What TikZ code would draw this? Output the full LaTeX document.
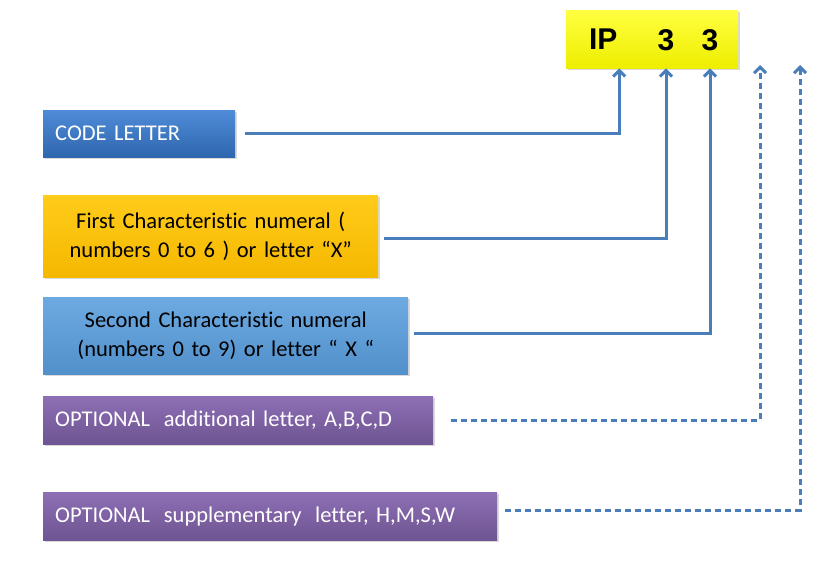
\documentclass[tikz,border=0pt]{standalone}
\usepackage{fontspec}
\setmainfont{Carlito}[Ligatures=NoCommon, WordSpace=0.8]
\newfontfamily\heavyfont{Liberation Sans}
\usetikzlibrary{arrows.meta,shadows}
\definecolor{linkblue}{HTML}{4A7EBB}
\definecolor{codetop}{HTML}{4F8BD8}
\definecolor{codebot}{HTML}{2F67AE}
\definecolor{goldtop}{HTML}{FFCC1A}
\definecolor{goldbot}{HTML}{F5B800}
\definecolor{skytop}{HTML}{6DAAE2}
\definecolor{skybot}{HTML}{5290CB}
\definecolor{plumtop}{HTML}{8E6FB5}
\definecolor{plumbot}{HTML}{6E5491}
\definecolor{lemontop}{HTML}{FFFF40}
\definecolor{lemonbot}{HTML}{EEEE00}
\tikzset{
  box/.style={rectangle, anchor=north west, inner xsep=12pt, inner ysep=0pt,
    drop shadow={shadow xshift=2pt, shadow yshift=-2pt, opacity=.3},
    font=\fontsize{22.5}{29}\selectfont},
  codebox/.style={box, top color=codetop, bottom color=codebot, text=white, align=left},
  goldbox/.style={box, top color=goldtop, bottom color=goldbot, align=center},
  skybox/.style={box, top color=skytop, bottom color=skybot, align=center},
  plumbox/.style={box, top color=plumtop, bottom color=plumbot, text=white, align=left},
  ipbox/.style={box, top color=lemontop, bottom color=lemonbot, inner xsep=0pt,
    minimum height=58pt, font=\heavyfont\bfseries\fontsize{30}{30}\selectfont},
  digit/.style={inner sep=0pt, font=\heavyfont\bfseries\fontsize{30}{30}\selectfont},
  link/.style={draw=linkblue, line width=3pt, -{Straight Barb[length=6pt,width=12pt]}},
  optlink/.style={link, dash pattern=on 6pt off 4pt},
}
\begin{document}
\begin{tikzpicture}[x=1pt, y=-1pt]
  \useasboundingbox (0,0) rectangle (836,565);
  % code boxes
  \node[ipbox, minimum width=74pt] (ip) at (566,10) {IP};
  \node[ipbox, minimum width=98pt] (num) at (640,10) {};
  \node[digit] (d1) at (666,40) {3};
  \node[digit] (d2) at (710,40) {3};
  \coordinate (optA) at (760,65);
  \coordinate (optB) at (800,65);
  % legend boxes
  \node[codebox, minimum height=47pt, text width=168pt] (code) at (43,110) {CODE LETTER};
  \node[goldbox, minimum height=82pt, text width=311pt] (first) at (43,195)
    {First Characteristic numeral (\\ numbers 0 to 6 ) or letter “X”};
  \node[skybox, minimum height=77pt, text width=341pt] (second) at (43,297)
    {Second Characteristic numeral\\ (numbers 0 to 9) or letter “ X “};
  \node[plumbox, minimum height=48pt, text width=366pt] (addl) at (43,396)
    {OPTIONAL\; additional letter, A,B,C,D};
  \node[plumbox, minimum height=48pt, text width=430pt] (supp) at (43,492)
    {OPTIONAL\; supplementary\; letter, H,M,S,W};
  \begin{scope}[link]
    \draw ([xshift=10pt]code.east) -| ([xshift=16pt]ip.south);
    \draw ([xshift=6pt,yshift=-2pt]first.east) -| (d1 |- num.south);
    \draw ([xshift=6pt,yshift=2pt]second.east) -| (d2 |- num.south);
  \end{scope}
  \begin{scope}[optlink]
    \draw ([xshift=18pt]addl.east) -| (optA);
    \draw ([xshift=8pt,yshift=6pt]supp.east) -| (optB);
  \end{scope}
\end{tikzpicture}
\end{document}
